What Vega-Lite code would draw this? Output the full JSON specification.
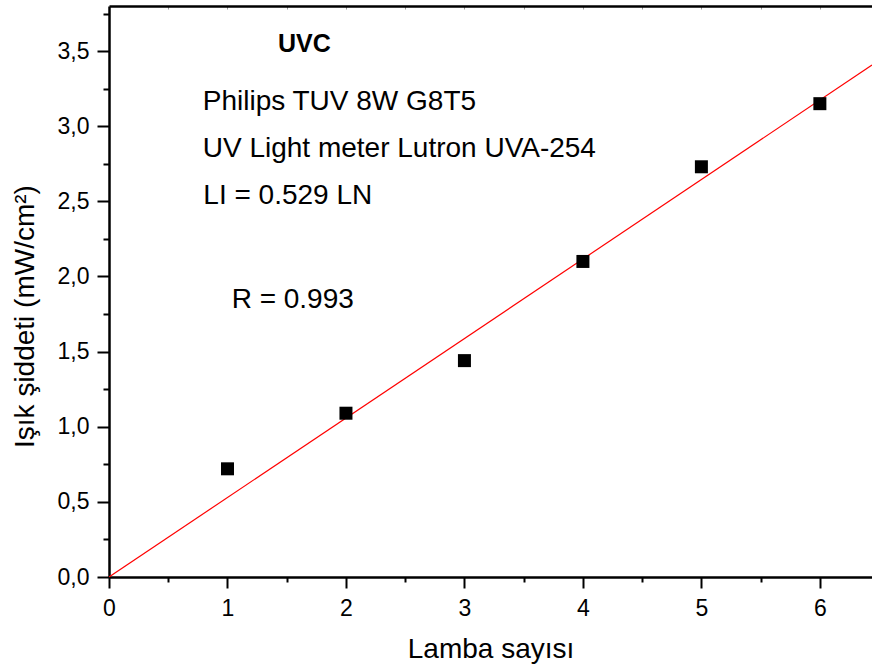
{
  "$schema": "https://vega.github.io/schema/vega-lite/v6.json",
  "width": 763,
  "height": 571,
  "autosize": {"type": "none"},
  "padding": {"left": 109, "top": 6, "right": 0, "bottom": 92},
  "background": "white",
  "config": {
    "view": {"stroke": null},
    "font": "Liberation Sans",
    "axis": {
      "grid": false,
      "labelFlush": false,
      "domainColor": "black",
      "tickColor": "black",
      "labelColor": "black",
      "titleColor": "black",
      "labelFont": "Liberation Sans",
      "titleFont": "Liberation Sans",
      "titleFontWeight": "normal"
    }
  },
  "datasets": {
    "measurements": [
      {"lamps": 1, "intensity": 0.72},
      {"lamps": 2, "intensity": 1.09},
      {"lamps": 3, "intensity": 1.44},
      {"lamps": 4, "intensity": 2.10},
      {"lamps": 5, "intensity": 2.73},
      {"lamps": 6, "intensity": 3.15}
    ],
    "fit": [
      {"lamps": 0, "intensity": 0},
      {"lamps": 6.44, "intensity": 3.407}
    ],
    "heading": [
      {"lamps": 1.426, "intensity": 3.495, "label": "UVC"}
    ],
    "notes": [
      {"lamps": 0.791, "intensity": 3.107, "label": "Philips TUV 8W G8T5"},
      {"lamps": 0.791, "intensity": 2.796, "label": "UV Light meter Lutron UVA-254"},
      {"lamps": 0.796, "intensity": 2.482, "label": "LI = 0.529 LN"},
      {"lamps": 1.035, "intensity": 1.788, "label": "R = 0.993"}
    ]
  },
  "resolve": {"axis": {"x": "independent", "y": "independent"}},
  "layer": [
    {
      "data": {"name": "fit"},
      "mark": {"type": "line", "color": "#ff0000", "strokeWidth": 1.2, "clip": true},
      "encoding": {
        "x": {
          "field": "lamps",
          "type": "quantitative",
          "scale": {"domain": [0, 6.44], "nice": false, "zero": false},
          "axis": {
            "orient": "top",
            "title": null,
            "labels": false,
            "values": [0.5, 1, 1.5, 2, 2.5, 3, 3.5, 4, 4.5, 5, 5.5, 6],
            "tickSize": -3,
            "tickWidth": 1,
            "tickColor": "#999999",
            "domainWidth": 2.5
          }
        },
        "y": {
          "field": "intensity",
          "type": "quantitative",
          "scale": {"domain": [0, 3.8], "nice": false, "zero": false},
          "axis": null
        }
      }
    },
    {
      "data": {"name": "measurements"},
      "mark": {"type": "point", "shape": "square", "filled": true, "size": 169, "color": "black", "opacity": 1},
      "encoding": {
        "x": {
          "field": "lamps",
          "type": "quantitative",
          "scale": {"domain": [0, 6.44], "nice": false, "zero": false},
          "axis": {
            "orient": "bottom",
            "title": "Lamba sayısı",
            "titleFontSize": 28,
            "titleBaseline": "alphabetic",
            "titleY": 80,
            "values": [0, 0.5, 1, 1.5, 2, 2.5, 3, 3.5, 4, 4.5, 5, 5.5, 6],
            "labelExpr": "datum.value % 1 === 0 ? format(datum.value, 'd') : ''",
            "labelFontSize": 23,
            "labelPadding": 9,
            "tickSize": {"condition": {"test": "datum.value % 1 === 0", "value": 11}, "value": 5},
            "tickWidth": 2,
            "domainWidth": 2.5
          }
        },
        "y": {
          "field": "intensity",
          "type": "quantitative",
          "scale": {"domain": [0, 3.8], "nice": false, "zero": false},
          "axis": {
            "orient": "left",
            "title": "Işık şiddeti (mW/cm²)",
            "titleFontSize": 28,
            "titleBaseline": "alphabetic",
            "titleAngle": -90,
            "titleAlign": "center",
            "titleX": -76,
            "titleY": 310,
            "values": [0, 0.25, 0.5, 0.75, 1, 1.25, 1.5, 1.75, 2, 2.25, 2.5, 2.75, 3, 3.25, 3.5, 3.75],
            "labelExpr": "datum.value % 0.5 === 0 ? replace(format(datum.value, '.1f'), '.', ',') : ''",
            "labelFontSize": 23,
            "labelPadding": 8,
            "tickSize": {"condition": {"test": "datum.value % 0.5 === 0", "value": 12}, "value": 6},
            "tickWidth": 2,
            "domainWidth": 2.5
          }
        }
      }
    },
    {
      "data": {"name": "heading"},
      "mark": {"type": "text", "align": "left", "baseline": "alphabetic", "fontSize": 25, "fontWeight": "bold", "color": "black"},
      "encoding": {
        "x": {"field": "lamps", "type": "quantitative", "axis": null},
        "y": {"field": "intensity", "type": "quantitative", "axis": null},
        "text": {"field": "label"}
      }
    },
    {
      "data": {"name": "notes"},
      "mark": {"type": "text", "align": "left", "baseline": "alphabetic", "fontSize": 28, "color": "black"},
      "encoding": {
        "x": {"field": "lamps", "type": "quantitative", "axis": null},
        "y": {"field": "intensity", "type": "quantitative", "axis": null},
        "text": {"field": "label"}
      }
    }
  ]
}
